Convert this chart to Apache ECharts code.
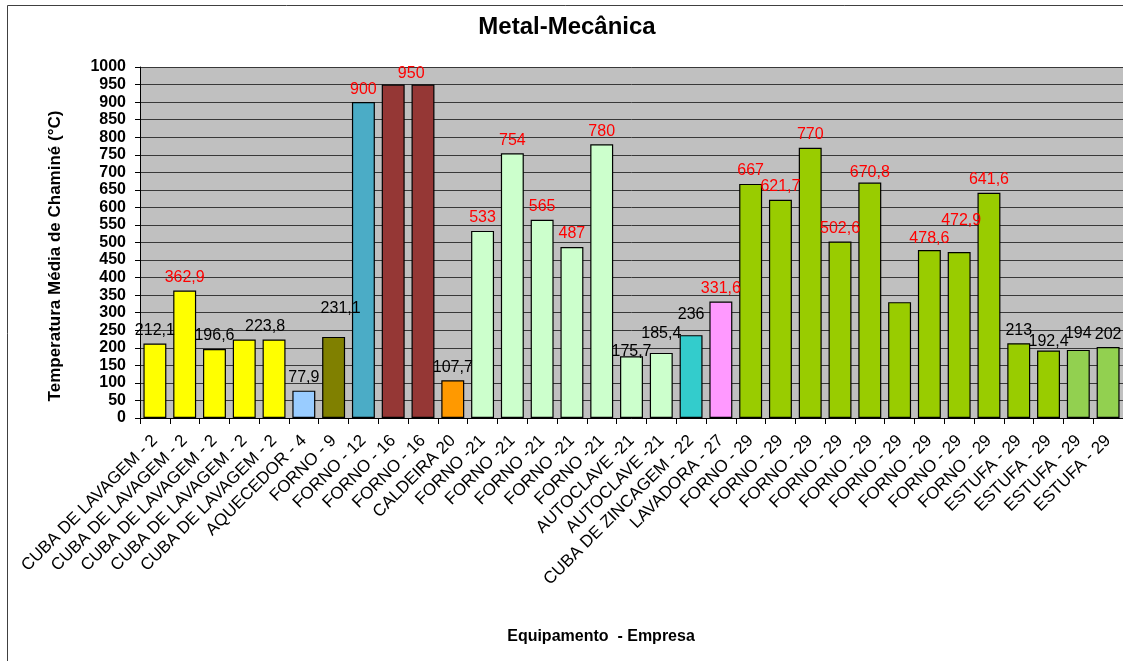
<!DOCTYPE html>
<html>
<head>
<meta charset="utf-8">
<title>Metal-Mecânica</title>
<script src="https://cdn.jsdelivr.net/npm/echarts@6/dist/echarts.min.js"></script>
<style>
  html, body { margin: 0; padding: 0; background: #fff; overflow: hidden; }
  #chart { width: 1123px; height: 661px; }
</style>
</head>
<body>
<div id="chart"></div>
<script>
// Equipment (and company number) along the category axis
const categories = [
  'CUBA DE LAVAGEM - 2', 'CUBA DE LAVAGEM - 2', 'CUBA DE LAVAGEM - 2', 'CUBA DE LAVAGEM - 2', 'CUBA DE LAVAGEM - 2',
  'AQUECEDOR - 4', 'FORNO - 9', 'FORNO - 12', 'FORNO - 16', 'FORNO - 16', 'CALDEIRA 20',
  'FORNO -21', 'FORNO -21', 'FORNO -21', 'FORNO -21', 'FORNO -21',
  'AUTOCLAVE -21', 'AUTOCLAVE -21', 'CUBA DE ZINCAGEM - 22', 'LAVADORA - 27',
  'FORNO - 29', 'FORNO - 29', 'FORNO - 29', 'FORNO - 29', 'FORNO - 29', 'FORNO - 29', 'FORNO - 29', 'FORNO - 29', 'FORNO - 29',
  'ESTUFA - 29', 'ESTUFA - 29', 'ESTUFA - 29', 'ESTUFA - 29'
];

// Mean stack temperature (°C)
const temperatures = [
  212.1, 362.9, 196.6, 223.8, 223.8,
  77.9, 231.1, 900, 950, 950, 107.7,
  533, 754, 565, 487, 780,
  175.7, 185.4, 236, 331.6,
  667, 621.7, 770, 502.6, 670.8, 330, 478.6, 472.9, 641.6,
  213, 192.4, 194, 202
];

// Value axis range
const yMin = 0;
const yMax = 1000;
const yStep = 50;

// Fill colour of each bar, grouped by equipment type
const barColors = [
  '#FFFF00', '#FFFF00', '#FFFF00', '#FFFF00', '#FFFF00',
  '#99CCFF', '#808000', '#4BACC6', '#953735', '#953735', '#FF9900',
  '#CCFFCC', '#CCFFCC', '#CCFFCC', '#CCFFCC', '#CCFFCC',
  '#CCFFCC', '#CCFFCC', '#33CCCC', '#FF99FF',
  '#99CC00', '#99CC00', '#99CC00', '#99CC00', '#99CC00', '#99CC00', '#99CC00', '#99CC00', '#99CC00',
  '#99CC00', '#99CC00', '#92D050', '#92D050'
];

// Bars whose value label is not shown
const unlabeled = new Set([3, 9, 25]);
// Hand-placed value labels: [dx, dy] in pixels
const labelNudges = {
  4: [-9, 0], 6: [7, -15], 8: [18, 2], 16: [0, 8], 17: [0, -6], 18: [0, -8],
  24: [0, 3], 26: [0, 2], 27: [2, -18], 30: [0, 4], 31: [0, -3]
};
const hotLimit = 300;   // labels above this temperature are drawn in red

const FONT = '"Liberation Sans", Arial, sans-serif';

const barData = temperatures.map((v, i) => ({
  value: v,
  itemStyle: { color: barColors[i] },
  label: {
    show: !unlabeled.has(i),
    color: v > hotLimit ? '#FF0000' : '#000000',
    offset: labelNudges[i] || [0, 0]
  }
}));

const chart = echarts.init(document.getElementById('chart'), null, { renderer: 'canvas' });

chart.setOption({
  backgroundColor: '#FFFFFF',
  animation: false,
  textStyle: { fontFamily: FONT },
  grid: {
    left: 140, right: 0, top: 67, bottom: 243,
    show: true,
    backgroundColor: '#C0C0C0',
    borderColor: '#999999',
    borderWidth: 0
  },
  xAxis: {
    type: 'category',
    data: categories,
    axisLine: { show: true, lineStyle: { color: '#000', width: 1 } },
    axisTick: { show: true, interval: 0, length: 6, lineStyle: { color: '#000' } },
    axisLabel: {
      interval: 0, rotate: 45, margin: 20,
      fontFamily: FONT, fontSize: 17, color: '#000'
    },
    splitLine: { show: false }
  },
  yAxis: {
    type: 'value',
    min: yMin, max: yMax, interval: yStep,
    axisLine: { show: true, lineStyle: { color: '#000', width: 1 } },
    axisTick: { show: true, length: 5, lineStyle: { color: '#000' } },
    axisLabel: {
      margin: 14, fontFamily: FONT, fontSize: 16, fontWeight: 'bold', color: '#000',
      formatter: v => String(v)
    },
    splitLine: { show: true, lineStyle: { color: '#383838', width: 1 } }
  },
  series: [{
    type: 'bar',
    data: barData,
    barCategoryGap: '23%',
    itemStyle: { borderColor: '#000', borderWidth: 1.2 },
    label: {
      position: 'top',
      distance: 5,
      fontFamily: FONT,
      fontSize: 16,
      formatter: p => String(p.value).replace('.', ',')
    }
  }],
  graphic: [
    {
      type: 'polyline', silent: true, z: -10,
      shape: { points: [[7.5, 661], [7.5, 5.5], [1123, 5.5]] },
      style: { fill: 'none', stroke: '#404040', lineWidth: 1 }
    },
    {
      type: 'polyline', silent: true,
      shape: { points: [[140, 67.5], [1123, 67.5]] },
      style: { fill: 'none', stroke: '#999999', lineWidth: 1 }
    },
    {
      type: 'text', x: 567, y: 27,
      style: {
        text: 'Metal-Mecânica', font: 'bold 24px ' + FONT, fill: '#000',
        align: 'center', verticalAlign: 'middle', textAlign: 'center', textVerticalAlign: 'middle'
      }
    },
    {
      type: 'text', x: 55, y: 256, rotation: Math.PI / 2,
      style: {
        text: 'Temperatura Média de Chaminé (°C)', font: 'bold 17px ' + FONT, fill: '#000',
        align: 'center', verticalAlign: 'middle', textAlign: 'center', textVerticalAlign: 'middle'
      }
    },
    {
      type: 'text', x: 601, y: 637,
      style: {
        text: 'Equipamento  - Empresa', font: 'bold 16px ' + FONT, fill: '#000',
        align: 'center', verticalAlign: 'middle', textAlign: 'center', textVerticalAlign: 'middle'
      }
    }
  ]
});
</script>
</body>
</html>
